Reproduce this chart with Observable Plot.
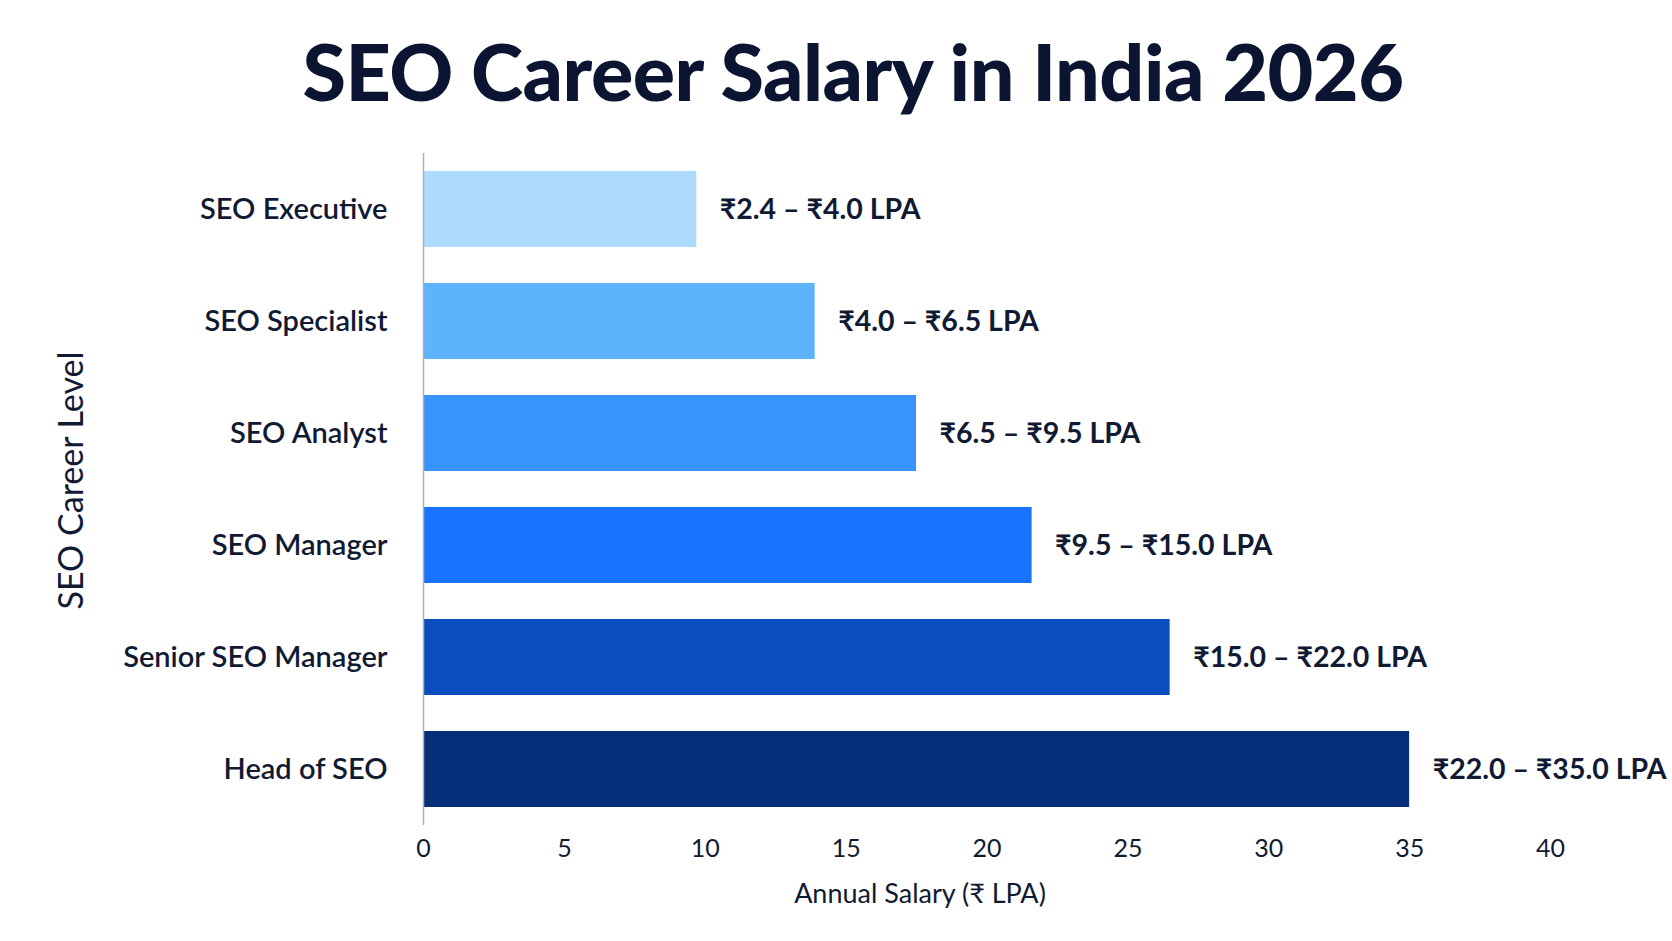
<!DOCTYPE html>
<html>
<head>
<meta charset="utf-8">
<script src="https://cdn.jsdelivr.net/npm/d3@7"></script>
<script src="https://cdn.jsdelivr.net/npm/@observablehq/plot@0.6"></script>
<style>
  html, body { margin: 0; padding: 0; background: #ffffff; }
  #wrap { width: 1672px; }
  #title {
    height: 140px; box-sizing: border-box; padding-top: 29px; padding-left: 34px;
    text-align: center; font-family: Lato, "Noto Sans", sans-serif; font-weight: 900;
    font-size: 79px; line-height: 84px; color: #0b1430; letter-spacing: -0.5px;
  }
</style>
</head>
<body>
<div id="wrap">
  <div id="title">SEO Career Salary in India 2026</div>
  <div id="chart"></div>
</div>
<script>
const levels = ["SEO Executive", "SEO Specialist", "SEO Analyst", "SEO Manager", "Senior SEO Manager", "Head of SEO"];
const barValues = [9.7, 13.9, 17.5, 21.6, 26.5, 35.0];
const rangeLabels = ["₹2.4 – ₹4.0 LPA", "₹4.0 – ₹6.5 LPA", "₹6.5 – ₹9.5 LPA", "₹9.5 – ₹15.0 LPA", "₹15.0 – ₹22.0 LPA", "₹22.0 – ₹35.0 LPA"];
const barColors = ["#acdbfd", "#5db3fc", "#3993fc", "#1874fe", "#0a4dbf", "#062f7a"];
const xTicks = [0, 5, 10, 15, 20, 25, 30, 35, 40];
const xLabel = "Annual Salary (₹ LPA)";
const yLabel = "SEO Career Level";

const data = levels.map((level, i) => ({level, value: barValues[i], label: rangeLabels[i], color: barColors[i]}));

const ink = "#111a33";
const chart = Plot.plot({
  width: 1672,
  height: 801,
  marginLeft: 423,
  marginRight: 122,
  marginTop: 13,
  marginBottom: 116,
  style: {fontFamily: "Lato, 'Noto Sans', sans-serif", color: ink, background: "#ffffff"},
  x: {domain: [0, 40], label: null},
  y: {domain: levels, paddingInner: 0.32, paddingOuter: 0.16, label: null},
  marks: [
    Plot.barX(data, {y: "level", x: "value", fill: "color"}),
    Plot.ruleX([0], {stroke: "#b0b0b0", strokeWidth: 1.5}),
    Plot.text(data, {y: "level", x: "value", text: "label", dx: 23, textAnchor: "start", fontSize: 28.5, fontWeight: 700, fill: ink}),
    Plot.axisX({ticks: xTicks, tickSize: 0, tickPadding: 14, fontSize: 25, label: null}),
    Plot.axisY({tickSize: 0, tickPadding: 36, fontSize: 29, fontWeight: 600, label: null}),
    Plot.text([xLabel], {frameAnchor: "bottom", textAnchor: "middle", lineAnchor: "middle", dx: -67, dy: 69, fontSize: 27, fill: ink}),
    Plot.text([yLabel], {frameAnchor: "left", textAnchor: "middle", lineAnchor: "middle", rotate: -90, dx: -351, dy: -9, fontSize: 34, fill: ink})
  ]
});
document.getElementById("chart").appendChild(chart);
</script>
</body>
</html>
